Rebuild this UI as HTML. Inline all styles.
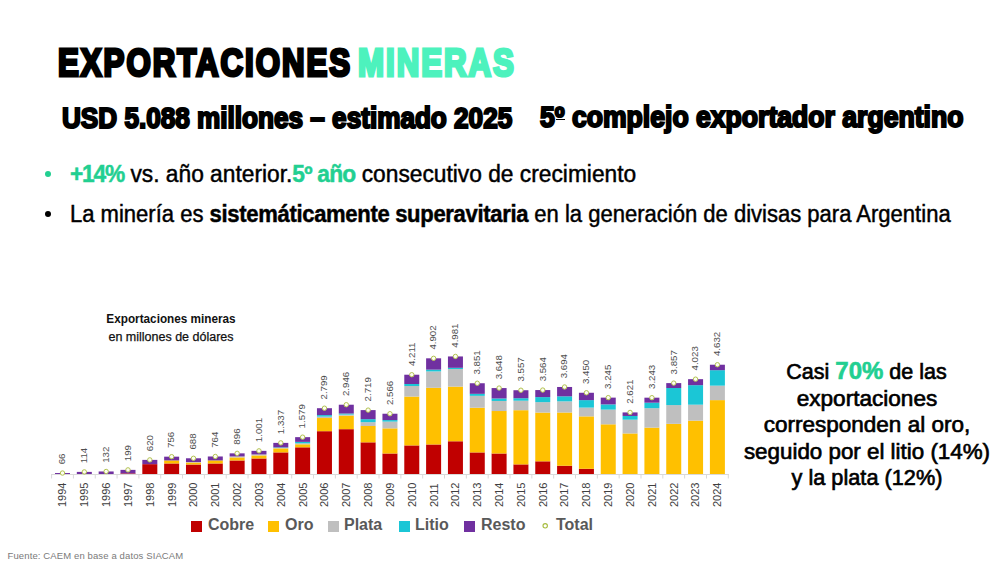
<!DOCTYPE html>
<html><head><meta charset="utf-8">
<style>
html,body{margin:0;padding:0;background:#fff;}
body{width:1000px;height:563px;position:relative;overflow:hidden;font-family:"Liberation Sans",sans-serif;}
.a{position:absolute;white-space:nowrap;line-height:1;}
#title{left:58px;top:43px;font-size:39px;font-weight:bold;color:#000;transform-origin:0 0;transform:scaleX(0.80);-webkit-text-stroke:3.2px #000;letter-spacing:2.5px;word-spacing:-6px;}
#title span{-webkit-text-stroke:3.2px #4DF2BD;}
#title span{color:#4DF2BD;}
.sub{font-size:29px;font-weight:bold;color:#000;transform-origin:0 0;-webkit-text-stroke:2.1px #000;}
#sub1{left:62px;top:103.5px;transform:scaleX(0.901);}
#sub2{left:540px;top:103px;transform:scaleX(0.917);}
.bl{font-size:23px;color:#000;transform-origin:0 0;-webkit-text-stroke:0.45px #000;}
.bl .g{-webkit-text-stroke:0.45px #22CF91;}
.bl b{font-weight:bold;}
.g{color:#22CF91;font-weight:bold;}
.dot{position:absolute;width:6px;height:6px;border-radius:50%;}
svg{position:absolute;left:0;top:0;}
.vl{font-size:9.7px;fill:#505050;font-family:"Liberation Sans",sans-serif;}
.yl{font-size:11px;fill:#404040;font-family:"Liberation Sans",sans-serif;}
.ct{font-size:12.5px;color:#111;text-align:center;width:200px;left:71px;}
.leg{font-size:16px;font-weight:bold;color:#595959;}
.sq{position:absolute;width:11px;height:11px;}
.rt{left:666.5px;width:400px;text-align:center;font-size:21.5px;color:#000;-webkit-text-stroke:0.65px #000;}
.rt .g{font-size:24px;font-weight:bold;-webkit-text-stroke:0.6px #22CF91;line-height:0;}
#src{left:7.5px;top:550.5px;font-size:9.5px;color:#7a7a7a;letter-spacing:0.12px;}
</style></head><body>
<div class="a" id="title">EXPORTACIONES <span>MINERAS</span></div>
<div class="a sub" id="sub1">USD 5.088 millones – estimado 2025</div>
<div class="a sub" id="sub2">5º complejo exportador argentino</div>
<div style="position:absolute;left:556px;top:118.6px;width:9px;height:1.6px;background:#000"></div>
<div class="dot" style="left:45px;top:171px;background:#22CF91"></div>
<div class="a bl" id="b1" style="left:70px;top:163px;transform:scaleX(0.9895)"><span class="g" style="letter-spacing:-1.2px">+14%</span> vs. año anterior.<span class="g" style="letter-spacing:-0.8px">5º año</span> consecutivo de crecimiento</div>
<div class="dot" style="left:45px;top:211px;background:#000"></div>
<div class="a bl" id="b2" style="left:70px;top:203px;transform:scaleX(0.9576)">La minería es <b style="letter-spacing:-0.33px">sistemáticamente superavitaria</b> en la generación de divisas para Argentina</div>
<div class="a ct" id="ct1" style="top:313.2px;font-weight:bold;transform:scaleX(0.94)">Exportaciones mineras</div>
<div class="a ct" id="ct2" style="top:331.3px;-webkit-text-stroke:0.25px #111">en millones de dólares</div>
<svg width="1000" height="563" viewBox="0 0 1000 563">
<line x1="51" y1="474.5" x2="728.8149999999999" y2="474.5" stroke="#D9D9D9" stroke-width="1"/>
<line x1="51.59" y1="474" x2="51.59" y2="478.5" stroke="#D9D9D9" stroke-width="1"/>
<line x1="73.41" y1="474" x2="73.41" y2="478.5" stroke="#D9D9D9" stroke-width="1"/>
<line x1="95.25" y1="474" x2="95.25" y2="478.5" stroke="#D9D9D9" stroke-width="1"/>
<line x1="117.07" y1="474" x2="117.07" y2="478.5" stroke="#D9D9D9" stroke-width="1"/>
<line x1="138.91" y1="474" x2="138.91" y2="478.5" stroke="#D9D9D9" stroke-width="1"/>
<line x1="160.73" y1="474" x2="160.73" y2="478.5" stroke="#D9D9D9" stroke-width="1"/>
<line x1="182.56" y1="474" x2="182.56" y2="478.5" stroke="#D9D9D9" stroke-width="1"/>
<line x1="204.40" y1="474" x2="204.40" y2="478.5" stroke="#D9D9D9" stroke-width="1"/>
<line x1="226.22" y1="474" x2="226.22" y2="478.5" stroke="#D9D9D9" stroke-width="1"/>
<line x1="248.05" y1="474" x2="248.05" y2="478.5" stroke="#D9D9D9" stroke-width="1"/>
<line x1="269.88" y1="474" x2="269.88" y2="478.5" stroke="#D9D9D9" stroke-width="1"/>
<line x1="291.71" y1="474" x2="291.71" y2="478.5" stroke="#D9D9D9" stroke-width="1"/>
<line x1="313.54" y1="474" x2="313.54" y2="478.5" stroke="#D9D9D9" stroke-width="1"/>
<line x1="335.37" y1="474" x2="335.37" y2="478.5" stroke="#D9D9D9" stroke-width="1"/>
<line x1="357.20" y1="474" x2="357.20" y2="478.5" stroke="#D9D9D9" stroke-width="1"/>
<line x1="379.03" y1="474" x2="379.03" y2="478.5" stroke="#D9D9D9" stroke-width="1"/>
<line x1="400.86" y1="474" x2="400.86" y2="478.5" stroke="#D9D9D9" stroke-width="1"/>
<line x1="422.69" y1="474" x2="422.69" y2="478.5" stroke="#D9D9D9" stroke-width="1"/>
<line x1="444.52" y1="474" x2="444.52" y2="478.5" stroke="#D9D9D9" stroke-width="1"/>
<line x1="466.35" y1="474" x2="466.35" y2="478.5" stroke="#D9D9D9" stroke-width="1"/>
<line x1="488.18" y1="474" x2="488.18" y2="478.5" stroke="#D9D9D9" stroke-width="1"/>
<line x1="510.01" y1="474" x2="510.01" y2="478.5" stroke="#D9D9D9" stroke-width="1"/>
<line x1="531.85" y1="474" x2="531.85" y2="478.5" stroke="#D9D9D9" stroke-width="1"/>
<line x1="553.67" y1="474" x2="553.67" y2="478.5" stroke="#D9D9D9" stroke-width="1"/>
<line x1="575.50" y1="474" x2="575.50" y2="478.5" stroke="#D9D9D9" stroke-width="1"/>
<line x1="597.34" y1="474" x2="597.34" y2="478.5" stroke="#D9D9D9" stroke-width="1"/>
<line x1="619.16" y1="474" x2="619.16" y2="478.5" stroke="#D9D9D9" stroke-width="1"/>
<line x1="641.00" y1="474" x2="641.00" y2="478.5" stroke="#D9D9D9" stroke-width="1"/>
<line x1="662.83" y1="474" x2="662.83" y2="478.5" stroke="#D9D9D9" stroke-width="1"/>
<line x1="684.65" y1="474" x2="684.65" y2="478.5" stroke="#D9D9D9" stroke-width="1"/>
<line x1="706.49" y1="474" x2="706.49" y2="478.5" stroke="#D9D9D9" stroke-width="1"/>
<line x1="728.31" y1="474" x2="728.31" y2="478.5" stroke="#D9D9D9" stroke-width="1"/>
<rect x="55.00" y="473.03" width="15.0" height="0.97" fill="#7030A0"/>
<circle cx="62.50" cy="473.03" r="2.2" fill="#FDFDF0" stroke="#B2C252" stroke-width="1"/>
<text transform="translate(65.30,464.33) rotate(-90)" class="vl">66</text>
<text transform="translate(66.40,507) rotate(-90)" class="yl">1994</text>
<rect x="76.83" y="471.90" width="15.0" height="2.10" fill="#7030A0"/>
<circle cx="84.33" cy="471.90" r="2.2" fill="#FDFDF0" stroke="#B2C252" stroke-width="1"/>
<text transform="translate(87.13,463.20) rotate(-90)" class="vl">114</text>
<text transform="translate(88.23,507) rotate(-90)" class="yl">1995</text>
<rect x="98.66" y="471.47" width="15.0" height="2.53" fill="#7030A0"/>
<circle cx="106.16" cy="471.47" r="2.2" fill="#FDFDF0" stroke="#B2C252" stroke-width="1"/>
<text transform="translate(108.96,462.77) rotate(-90)" class="vl">132</text>
<text transform="translate(110.06,507) rotate(-90)" class="yl">1996</text>
<rect x="120.49" y="473.41" width="15.0" height="0.59" fill="#C00000"/>
<rect x="120.49" y="469.88" width="15.0" height="3.53" fill="#7030A0"/>
<circle cx="127.99" cy="469.88" r="2.2" fill="#FDFDF0" stroke="#B2C252" stroke-width="1"/>
<text transform="translate(130.79,461.18) rotate(-90)" class="vl">199</text>
<text transform="translate(131.89,507) rotate(-90)" class="yl">1997</text>
<rect x="142.32" y="464.16" width="15.0" height="9.84" fill="#C00000"/>
<rect x="142.32" y="459.89" width="15.0" height="4.27" fill="#7030A0"/>
<circle cx="149.82" cy="459.89" r="2.2" fill="#FDFDF0" stroke="#B2C252" stroke-width="1"/>
<text transform="translate(152.62,451.19) rotate(-90)" class="vl">620</text>
<text transform="translate(153.72,507) rotate(-90)" class="yl">1998</text>
<rect x="164.15" y="463.45" width="15.0" height="10.55" fill="#C00000"/>
<rect x="164.15" y="460.42" width="15.0" height="3.04" fill="#FFC000"/>
<rect x="164.15" y="456.67" width="15.0" height="3.75" fill="#7030A0"/>
<circle cx="171.65" cy="456.67" r="2.2" fill="#FDFDF0" stroke="#B2C252" stroke-width="1"/>
<text transform="translate(174.45,447.97) rotate(-90)" class="vl">756</text>
<text transform="translate(175.55,507) rotate(-90)" class="yl">1999</text>
<rect x="185.98" y="464.52" width="15.0" height="9.48" fill="#C00000"/>
<rect x="185.98" y="462.50" width="15.0" height="2.02" fill="#FFC000"/>
<rect x="185.98" y="462.03" width="15.0" height="0.47" fill="#BFBFBF"/>
<rect x="185.98" y="458.28" width="15.0" height="3.75" fill="#7030A0"/>
<circle cx="193.48" cy="458.28" r="2.2" fill="#FDFDF0" stroke="#B2C252" stroke-width="1"/>
<text transform="translate(196.28,449.58) rotate(-90)" class="vl">688</text>
<text transform="translate(197.38,507) rotate(-90)" class="yl">2000</text>
<rect x="207.81" y="463.45" width="15.0" height="10.55" fill="#C00000"/>
<rect x="207.81" y="460.42" width="15.0" height="3.04" fill="#FFC000"/>
<rect x="207.81" y="456.48" width="15.0" height="3.94" fill="#7030A0"/>
<circle cx="215.31" cy="456.48" r="2.2" fill="#FDFDF0" stroke="#B2C252" stroke-width="1"/>
<text transform="translate(218.11,447.78) rotate(-90)" class="vl">764</text>
<text transform="translate(219.21,507) rotate(-90)" class="yl">2001</text>
<rect x="229.64" y="460.46" width="15.0" height="13.54" fill="#C00000"/>
<rect x="229.64" y="457.43" width="15.0" height="3.04" fill="#FFC000"/>
<rect x="229.64" y="456.43" width="15.0" height="1.00" fill="#BFBFBF"/>
<rect x="229.64" y="453.35" width="15.0" height="3.08" fill="#7030A0"/>
<circle cx="237.14" cy="453.35" r="2.2" fill="#FDFDF0" stroke="#B2C252" stroke-width="1"/>
<text transform="translate(239.94,444.65) rotate(-90)" class="vl">896</text>
<text transform="translate(241.04,507) rotate(-90)" class="yl">2002</text>
<rect x="251.47" y="458.47" width="15.0" height="15.53" fill="#C00000"/>
<rect x="251.47" y="455.43" width="15.0" height="3.04" fill="#FFC000"/>
<rect x="251.47" y="454.44" width="15.0" height="1.00" fill="#BFBFBF"/>
<rect x="251.47" y="450.86" width="15.0" height="3.58" fill="#7030A0"/>
<circle cx="258.97" cy="450.86" r="2.2" fill="#FDFDF0" stroke="#B2C252" stroke-width="1"/>
<text transform="translate(261.77,442.16) rotate(-90)" class="vl">1.001</text>
<text transform="translate(262.87,507) rotate(-90)" class="yl">2003</text>
<rect x="273.30" y="452.40" width="15.0" height="21.60" fill="#C00000"/>
<rect x="273.30" y="448.37" width="15.0" height="4.03" fill="#FFC000"/>
<rect x="273.30" y="447.89" width="15.0" height="0.47" fill="#BFBFBF"/>
<rect x="273.30" y="447.39" width="15.0" height="0.50" fill="#1BC6D6"/>
<rect x="273.30" y="442.89" width="15.0" height="4.51" fill="#7030A0"/>
<circle cx="280.80" cy="442.89" r="2.2" fill="#FDFDF0" stroke="#B2C252" stroke-width="1"/>
<text transform="translate(283.60,434.19) rotate(-90)" class="vl">1.337</text>
<text transform="translate(284.70,507) rotate(-90)" class="yl">2004</text>
<rect x="295.13" y="447.32" width="15.0" height="26.68" fill="#C00000"/>
<rect x="295.13" y="444.29" width="15.0" height="3.04" fill="#FFC000"/>
<rect x="295.13" y="443.29" width="15.0" height="1.00" fill="#BFBFBF"/>
<rect x="295.13" y="441.87" width="15.0" height="1.42" fill="#1BC6D6"/>
<rect x="295.13" y="437.15" width="15.0" height="4.72" fill="#7030A0"/>
<circle cx="302.63" cy="437.15" r="2.2" fill="#FDFDF0" stroke="#B2C252" stroke-width="1"/>
<text transform="translate(305.43,428.45) rotate(-90)" class="vl">1.579</text>
<text transform="translate(306.53,507) rotate(-90)" class="yl">2005</text>
<rect x="316.96" y="431.19" width="15.0" height="42.81" fill="#C00000"/>
<rect x="316.96" y="418.03" width="15.0" height="13.16" fill="#FFC000"/>
<rect x="316.96" y="416.60" width="15.0" height="1.42" fill="#BFBFBF"/>
<rect x="316.96" y="415.09" width="15.0" height="1.52" fill="#1BC6D6"/>
<rect x="316.96" y="408.21" width="15.0" height="6.88" fill="#7030A0"/>
<circle cx="324.46" cy="408.21" r="2.2" fill="#FDFDF0" stroke="#B2C252" stroke-width="1"/>
<text transform="translate(327.26,399.51) rotate(-90)" class="vl">2.799</text>
<text transform="translate(328.36,507) rotate(-90)" class="yl">2006</text>
<rect x="338.79" y="429.18" width="15.0" height="44.82" fill="#C00000"/>
<rect x="338.79" y="415.66" width="15.0" height="13.52" fill="#FFC000"/>
<rect x="338.79" y="414.59" width="15.0" height="1.07" fill="#BFBFBF"/>
<rect x="338.79" y="413.52" width="15.0" height="1.07" fill="#1BC6D6"/>
<rect x="338.79" y="404.72" width="15.0" height="8.80" fill="#7030A0"/>
<circle cx="346.29" cy="404.72" r="2.2" fill="#FDFDF0" stroke="#B2C252" stroke-width="1"/>
<text transform="translate(349.09,396.02) rotate(-90)" class="vl">2.946</text>
<text transform="translate(350.19,507) rotate(-90)" class="yl">2007</text>
<rect x="360.62" y="442.34" width="15.0" height="31.66" fill="#C00000"/>
<rect x="360.62" y="425.97" width="15.0" height="16.37" fill="#FFC000"/>
<rect x="360.62" y="422.18" width="15.0" height="3.80" fill="#BFBFBF"/>
<rect x="360.62" y="419.17" width="15.0" height="3.01" fill="#1BC6D6"/>
<rect x="360.62" y="410.11" width="15.0" height="9.06" fill="#7030A0"/>
<circle cx="368.12" cy="410.11" r="2.2" fill="#FDFDF0" stroke="#B2C252" stroke-width="1"/>
<text transform="translate(370.92,401.41) rotate(-90)" class="vl">2.719</text>
<text transform="translate(372.02,507) rotate(-90)" class="yl">2008</text>
<rect x="382.45" y="453.49" width="15.0" height="20.51" fill="#C00000"/>
<rect x="382.45" y="428.35" width="15.0" height="25.14" fill="#FFC000"/>
<rect x="382.45" y="421.59" width="15.0" height="6.76" fill="#BFBFBF"/>
<rect x="382.45" y="420.07" width="15.0" height="1.52" fill="#1BC6D6"/>
<rect x="382.45" y="413.73" width="15.0" height="6.33" fill="#7030A0"/>
<circle cx="389.95" cy="413.73" r="2.2" fill="#FDFDF0" stroke="#B2C252" stroke-width="1"/>
<text transform="translate(392.75,405.03) rotate(-90)" class="vl">2.566</text>
<text transform="translate(393.85,507) rotate(-90)" class="yl">2009</text>
<rect x="404.28" y="445.42" width="15.0" height="28.58" fill="#C00000"/>
<rect x="404.28" y="396.56" width="15.0" height="48.86" fill="#FFC000"/>
<rect x="404.28" y="386.01" width="15.0" height="10.56" fill="#BFBFBF"/>
<rect x="404.28" y="383.99" width="15.0" height="2.02" fill="#1BC6D6"/>
<rect x="404.28" y="374.72" width="15.0" height="9.27" fill="#7030A0"/>
<circle cx="411.78" cy="374.72" r="2.2" fill="#FDFDF0" stroke="#B2C252" stroke-width="1"/>
<text transform="translate(414.58,366.02) rotate(-90)" class="vl">4.211</text>
<text transform="translate(415.68,507) rotate(-90)" class="yl">2010</text>
<rect x="426.11" y="444.48" width="15.0" height="29.52" fill="#C00000"/>
<rect x="426.11" y="387.78" width="15.0" height="56.69" fill="#FFC000"/>
<rect x="426.11" y="371.42" width="15.0" height="16.37" fill="#BFBFBF"/>
<rect x="426.11" y="369.64" width="15.0" height="1.78" fill="#1BC6D6"/>
<rect x="426.11" y="358.32" width="15.0" height="11.31" fill="#7030A0"/>
<circle cx="433.61" cy="358.32" r="2.2" fill="#FDFDF0" stroke="#B2C252" stroke-width="1"/>
<text transform="translate(436.41,349.62) rotate(-90)" class="vl">4.902</text>
<text transform="translate(437.51,507) rotate(-90)" class="yl">2011</text>
<rect x="447.94" y="441.27" width="15.0" height="32.73" fill="#C00000"/>
<rect x="447.94" y="386.60" width="15.0" height="54.67" fill="#FFC000"/>
<rect x="447.94" y="369.05" width="15.0" height="17.55" fill="#BFBFBF"/>
<rect x="447.94" y="367.81" width="15.0" height="1.23" fill="#1BC6D6"/>
<rect x="447.94" y="356.45" width="15.0" height="11.36" fill="#7030A0"/>
<circle cx="455.44" cy="356.45" r="2.2" fill="#FDFDF0" stroke="#B2C252" stroke-width="1"/>
<text transform="translate(458.24,347.75) rotate(-90)" class="vl">4.981</text>
<text transform="translate(459.34,507) rotate(-90)" class="yl">2012</text>
<rect x="469.77" y="452.42" width="15.0" height="21.58" fill="#C00000"/>
<rect x="469.77" y="407.71" width="15.0" height="44.71" fill="#FFC000"/>
<rect x="469.77" y="395.85" width="15.0" height="11.86" fill="#BFBFBF"/>
<rect x="469.77" y="393.83" width="15.0" height="2.02" fill="#1BC6D6"/>
<rect x="469.77" y="383.25" width="15.0" height="10.58" fill="#7030A0"/>
<circle cx="477.27" cy="383.25" r="2.2" fill="#FDFDF0" stroke="#B2C252" stroke-width="1"/>
<text transform="translate(480.07,374.55) rotate(-90)" class="vl">3.851</text>
<text transform="translate(481.17,507) rotate(-90)" class="yl">2013</text>
<rect x="491.60" y="453.49" width="15.0" height="20.51" fill="#C00000"/>
<rect x="491.60" y="411.03" width="15.0" height="42.46" fill="#FFC000"/>
<rect x="491.60" y="400.95" width="15.0" height="10.08" fill="#BFBFBF"/>
<rect x="491.60" y="398.46" width="15.0" height="2.49" fill="#1BC6D6"/>
<rect x="491.60" y="388.07" width="15.0" height="10.39" fill="#7030A0"/>
<circle cx="499.10" cy="388.07" r="2.2" fill="#FDFDF0" stroke="#B2C252" stroke-width="1"/>
<text transform="translate(501.90,379.37) rotate(-90)" class="vl">3.648</text>
<text transform="translate(503.00,507) rotate(-90)" class="yl">2014</text>
<rect x="513.43" y="464.40" width="15.0" height="9.60" fill="#C00000"/>
<rect x="513.43" y="410.20" width="15.0" height="54.20" fill="#FFC000"/>
<rect x="513.43" y="400.71" width="15.0" height="9.49" fill="#BFBFBF"/>
<rect x="513.43" y="398.22" width="15.0" height="2.49" fill="#1BC6D6"/>
<rect x="513.43" y="390.23" width="15.0" height="7.99" fill="#7030A0"/>
<circle cx="520.93" cy="390.23" r="2.2" fill="#FDFDF0" stroke="#B2C252" stroke-width="1"/>
<text transform="translate(523.73,381.53) rotate(-90)" class="vl">3.557</text>
<text transform="translate(524.83,507) rotate(-90)" class="yl">2015</text>
<rect x="535.26" y="461.32" width="15.0" height="12.68" fill="#C00000"/>
<rect x="535.26" y="412.57" width="15.0" height="48.74" fill="#FFC000"/>
<rect x="535.26" y="402.14" width="15.0" height="10.44" fill="#BFBFBF"/>
<rect x="535.26" y="397.11" width="15.0" height="5.03" fill="#1BC6D6"/>
<rect x="535.26" y="390.06" width="15.0" height="7.04" fill="#7030A0"/>
<circle cx="542.76" cy="390.06" r="2.2" fill="#FDFDF0" stroke="#B2C252" stroke-width="1"/>
<text transform="translate(545.56,381.36) rotate(-90)" class="vl">3.564</text>
<text transform="translate(546.66,507) rotate(-90)" class="yl">2016</text>
<rect x="557.09" y="465.75" width="15.0" height="8.25" fill="#C00000"/>
<rect x="557.09" y="412.50" width="15.0" height="53.25" fill="#FFC000"/>
<rect x="557.09" y="401.35" width="15.0" height="11.15" fill="#BFBFBF"/>
<rect x="557.09" y="396.32" width="15.0" height="5.03" fill="#1BC6D6"/>
<rect x="557.09" y="386.98" width="15.0" height="9.35" fill="#7030A0"/>
<circle cx="564.59" cy="386.98" r="2.2" fill="#FDFDF0" stroke="#B2C252" stroke-width="1"/>
<text transform="translate(567.39,378.28) rotate(-90)" class="vl">3.694</text>
<text transform="translate(568.49,507) rotate(-90)" class="yl">2017</text>
<rect x="578.92" y="468.79" width="15.0" height="5.21" fill="#C00000"/>
<rect x="578.92" y="416.37" width="15.0" height="52.42" fill="#FFC000"/>
<rect x="578.92" y="407.59" width="15.0" height="8.78" fill="#BFBFBF"/>
<rect x="578.92" y="400.12" width="15.0" height="7.47" fill="#1BC6D6"/>
<rect x="578.92" y="392.77" width="15.0" height="7.35" fill="#7030A0"/>
<circle cx="586.42" cy="392.77" r="2.2" fill="#FDFDF0" stroke="#B2C252" stroke-width="1"/>
<text transform="translate(589.22,384.07) rotate(-90)" class="vl">3.450</text>
<text transform="translate(590.32,507) rotate(-90)" class="yl">2018</text>
<rect x="600.75" y="424.31" width="15.0" height="49.69" fill="#FFC000"/>
<rect x="600.75" y="409.61" width="15.0" height="14.71" fill="#BFBFBF"/>
<rect x="600.75" y="404.39" width="15.0" height="5.22" fill="#1BC6D6"/>
<rect x="600.75" y="397.63" width="15.0" height="6.76" fill="#7030A0"/>
<circle cx="608.25" cy="397.63" r="2.2" fill="#FDFDF0" stroke="#B2C252" stroke-width="1"/>
<text transform="translate(611.05,388.93) rotate(-90)" class="vl">3.245</text>
<text transform="translate(612.15,507) rotate(-90)" class="yl">2019</text>
<rect x="622.58" y="433.45" width="15.0" height="40.55" fill="#FFC000"/>
<rect x="622.58" y="419.69" width="15.0" height="13.76" fill="#BFBFBF"/>
<rect x="622.58" y="415.96" width="15.0" height="3.72" fill="#1BC6D6"/>
<rect x="622.58" y="412.43" width="15.0" height="3.53" fill="#7030A0"/>
<circle cx="630.08" cy="412.43" r="2.2" fill="#FDFDF0" stroke="#B2C252" stroke-width="1"/>
<text transform="translate(632.88,403.73) rotate(-90)" class="vl">2.621</text>
<text transform="translate(633.98,507) rotate(-90)" class="yl">2020</text>
<rect x="644.41" y="427.63" width="15.0" height="46.37" fill="#FFC000"/>
<rect x="644.41" y="408.18" width="15.0" height="19.45" fill="#BFBFBF"/>
<rect x="644.41" y="402.68" width="15.0" height="5.50" fill="#1BC6D6"/>
<rect x="644.41" y="397.68" width="15.0" height="5.00" fill="#7030A0"/>
<circle cx="651.91" cy="397.68" r="2.2" fill="#FDFDF0" stroke="#B2C252" stroke-width="1"/>
<text transform="translate(654.71,388.98) rotate(-90)" class="vl">3.243</text>
<text transform="translate(655.81,507) rotate(-90)" class="yl">2021</text>
<rect x="666.24" y="423.84" width="15.0" height="50.16" fill="#FFC000"/>
<rect x="666.24" y="405.10" width="15.0" height="18.74" fill="#BFBFBF"/>
<rect x="666.24" y="388.02" width="15.0" height="17.08" fill="#1BC6D6"/>
<rect x="666.24" y="383.11" width="15.0" height="4.91" fill="#7030A0"/>
<circle cx="673.74" cy="383.11" r="2.2" fill="#FDFDF0" stroke="#B2C252" stroke-width="1"/>
<text transform="translate(676.54,374.41) rotate(-90)" class="vl">3.857</text>
<text transform="translate(677.64,507) rotate(-90)" class="yl">2022</text>
<rect x="688.07" y="420.64" width="15.0" height="53.36" fill="#FFC000"/>
<rect x="688.07" y="404.67" width="15.0" height="15.96" fill="#BFBFBF"/>
<rect x="688.07" y="385.18" width="15.0" height="19.50" fill="#1BC6D6"/>
<rect x="688.07" y="379.17" width="15.0" height="6.00" fill="#7030A0"/>
<circle cx="695.57" cy="379.17" r="2.2" fill="#FDFDF0" stroke="#B2C252" stroke-width="1"/>
<text transform="translate(698.37,370.47) rotate(-90)" class="vl">4.023</text>
<text transform="translate(699.47,507) rotate(-90)" class="yl">2023</text>
<rect x="709.90" y="400.12" width="15.0" height="73.88" fill="#FFC000"/>
<rect x="709.90" y="385.65" width="15.0" height="14.47" fill="#BFBFBF"/>
<rect x="709.90" y="370.18" width="15.0" height="15.47" fill="#1BC6D6"/>
<rect x="709.90" y="364.73" width="15.0" height="5.46" fill="#7030A0"/>
<circle cx="717.40" cy="364.73" r="2.2" fill="#FDFDF0" stroke="#B2C252" stroke-width="1"/>
<text transform="translate(720.20,356.03) rotate(-90)" class="vl">4.632</text>
<text transform="translate(721.30,507) rotate(-90)" class="yl">2024</text>
</svg>
<div class="sq" style="left:191px;top:521px;background:#C00000"></div><div class="a leg" style="left:208px;top:517px">Cobre</div>
<div class="sq" style="left:268px;top:521px;background:#FFC000"></div><div class="a leg" style="left:285px;top:517px">Oro</div>
<div class="sq" style="left:328px;top:521px;background:#BFBFBF"></div><div class="a leg" style="left:344px;top:517px">Plata</div>
<div class="sq" style="left:399px;top:521px;background:#1BC6D6"></div><div class="a leg" style="left:415px;top:517px">Litio</div>
<div class="sq" style="left:464px;top:521px;background:#7030A0"></div><div class="a leg" style="left:481px;top:517px">Resto</div>
<svg width="1000" height="563" style="pointer-events:none"><circle cx="545.2" cy="525.8" r="2.2" fill="#fff" stroke="#A6BC3E" stroke-width="1.1"/></svg>
<div class="a leg" style="left:556px;top:517px">Total</div>
<div class="a rt" id="r1" style="top:362.20025px;transform:scaleX(1.0)">Casi <span class="g">70%</span> de las</div>
<div class="a rt" id="r2" style="top:388.70025px;transform:scaleX(1.05)">exportaciones</div>
<div class="a rt" id="r3" style="top:415.20025px;transform:scaleX(1.046)">corresponden al oro,</div>
<div class="a rt" id="r4" style="top:441.70025px;transform:scaleX(1.04)">seguido por el litio (14%)</div>
<div class="a rt" id="r5" style="top:468.20025px;transform:scaleX(1.01)">y la plata (12%)</div>
<div class="a" id="src">Fuente: CAEM en base a datos SIACAM</div>
</body></html>
